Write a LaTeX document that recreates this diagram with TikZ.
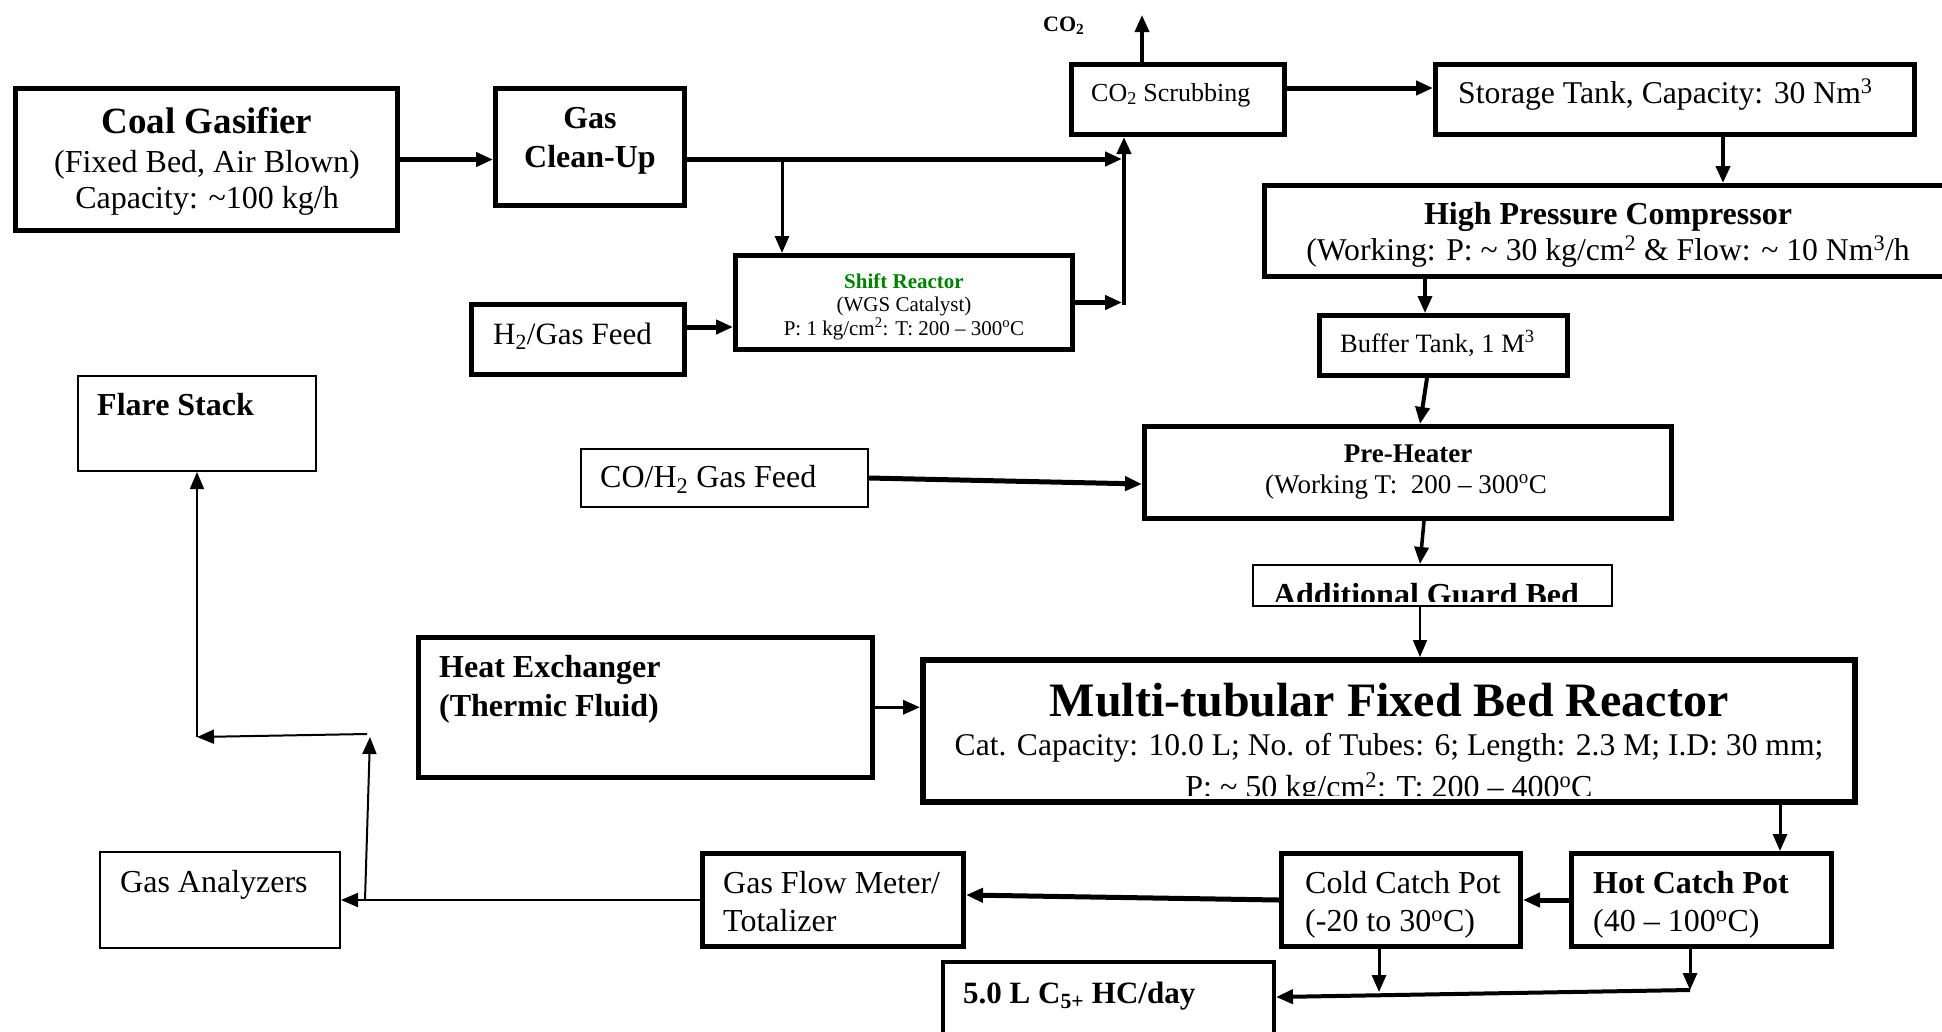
\documentclass[tikz,border=0pt]{standalone}
\usepackage{fontspec}
\setmainfont{Liberation Serif}
\usetikzlibrary{arrows.meta}
\newcommand\fsz[1]{\fontsize{#1}{#1}\selectfont}
\definecolor{shiftgreen}{RGB}{0,128,0}
\begin{document}
\begin{tikzpicture}[x=1pt,y=-1pt,
  box/.style={draw, rectangle, inner sep=0pt, anchor=north west, line width=#1},
  txt/.style={inner sep=0pt, anchor=base},
  ltxt/.style={inner sep=0pt, anchor=base west},
  con/.style={line width=#1, -{Triangle[length=17pt,width=14pt]}},
  ]
\useasboundingbox (0,0) rectangle (1942,1031);
\clip (0,0) rectangle (1942,1031);
\fill[white] (0,0) rectangle (1942,1031);

% ---------- boxes ----------
\node[box=5pt, minimum width=382pt, minimum height=142pt] (coal) at (13,86) {};
\node[box=5pt, minimum width=189pt, minimum height=117pt] (gcu) at (493,86) {};
\node[box=5pt, minimum width=213pt, minimum height=70pt] (co2s) at (1069,62) {};
\node[box=5pt, minimum width=479pt, minimum height=70pt] (stor) at (1433,62) {};
\node[box=5pt, minimum width=723pt, minimum height=91pt] (hpc) at (1262,183) {};
\node[box=5pt, minimum width=337pt, minimum height=94pt] (shift) at (733,253) {};
\node[box=5pt, minimum width=213pt, minimum height=70pt] (h2) at (469,302) {};
\node[box=5pt, minimum width=248pt, minimum height=60pt] (buf) at (1317,313) {};
\node[box=2pt, minimum width=238pt, minimum height=95pt] (flare) at (77,375) {};
\node[box=2pt, minimum width=287pt, minimum height=58pt] (coh2) at (580,448) {};
\node[box=5pt, minimum width=527pt, minimum height=92pt] (pre) at (1142,424) {};
\node[box=2pt, minimum width=359pt, minimum height=41pt] (guard) at (1252,564) {};
\node[box=4.5pt, minimum width=454pt, minimum height=140pt] (hx) at (416,635) {};
\node[box=6pt, minimum width=932pt, minimum height=142pt] (reac) at (920,657) {};
\node[box=2pt, minimum width=240pt, minimum height=96pt] (gan) at (99,851) {};
\node[box=5pt, minimum width=261pt, minimum height=93pt] (gfm) at (700,851) {};
\node[box=5pt, minimum width=239pt, minimum height=93pt] (ccp) at (1279,851) {};
\node[box=5pt, minimum width=260pt, minimum height=93pt] (hcp) at (1569,851) {};
\node[box=4pt, minimum width=331pt, minimum height=96pt] (hc) at (941,960) {};

% ---------- texts ----------
\node[txt, font=\fsz{37}\bfseries] (tcoal1) at (207,133) {Coal Gasifier};
\node[txt, font=\fsz{32}] (tcoal2) at (207,172) {(Fixed Bed, Air Blown)};
\node[txt, font=\fsz{32}] (tcoal3) at (207,208) {Capacity: \textasciitilde100 kg/h};
\node[txt, font=\fsz{32}\bfseries] (tgcu1) at (590,128) {Gas};
\node[txt, font=\fsz{32}\bfseries] (tgcu2) at (590,167) {Clean-Up};
\node[ltxt, font=\fsz{22}\bfseries] (tco2) at (1043,31) {CO\textsubscript{2}};
\node[ltxt, font=\fsz{26}] (tco2s) at (1091,101) {CO\textsubscript{2} Scrubbing};
\node[ltxt, font=\fsz{31.7}] (tstor) at (1458,103) {Storage Tank, Capacity: 30 Nm\textsuperscript{3}};
\node[txt, font=\fsz{32}\bfseries] (thpc1) at (1608,224) {High Pressure Compressor};
\node[txt, font=\fsz{31.7}] (thpc2) at (1608,260) {(Working: P: \textasciitilde{} 30 kg/cm\textsuperscript{2} \& Flow: \textasciitilde{} 10 Nm\textsuperscript{3}/h};
\node[txt, font=\fsz{21}\bfseries, text=shiftgreen] (tsh1) at (904,288) {Shift Reactor};
\node[txt, font=\fsz{21}] (tsh2) at (904,311) {(WGS Catalyst)};
\node[txt, font=\fsz{21}] (tsh3) at (904,335) {P: 1 kg/cm\textsuperscript{2}: T: 200 – 300\textsuperscript{o}C};
\node[ltxt, font=\fsz{31}] (th2) at (493,344) {H\textsubscript{2}/Gas Feed};
\node[ltxt, font=\fsz{26.5}] (tbuf) at (1340,352) {Buffer Tank, 1 M\textsuperscript{3}};
\node[ltxt, font=\fsz{32}\bfseries] (tflare) at (97,415) {Flare Stack};
\node[ltxt, font=\fsz{32}] (tcoh2) at (600,487) {CO/H\textsubscript{2} Gas Feed};
\node[txt, font=\fsz{27}\bfseries] (tpre1) at (1408,462) {Pre-Heater};
\node[txt, font=\fsz{27}] (tpre2) at (1406,493) {(Working T:\ \ 200 – 300\textsuperscript{o}C};
\begin{scope}
  \clip (1252,564) rectangle (1613,601);
  \node[txt, font=\fsz{32}\bfseries] (tguard) at (1426,605) {Additional Guard Bed};
\end{scope}
\node[ltxt, font=\fsz{32}\bfseries] (thx1) at (439,677) {Heat Exchanger};
\node[ltxt, font=\fsz{32}\bfseries] (thx2) at (439,716) {(Thermic Fluid)};
\node[txt, font=\fsz{48}\bfseries] (treac1) at (1389,716) {Multi-tubular Fixed Bed Reactor};
\node[txt, font=\fsz{31.6}] (treac2) at (1389,755) {Cat. Capacity: 10.0 L; No. of Tubes: 6; Length: 2.3 M; I.D: 30 mm;};
\begin{scope}
  \clip (920,657) rectangle (1858,795);
  \node[txt, font=\fsz{32}] (treac3) at (1389,797) {P: \textasciitilde{} 50 kg/cm\textsuperscript{2}: T: 200 – 400\textsuperscript{o}C};
\end{scope}
\node[ltxt, font=\fsz{32}] (tgan) at (120,892) {Gas Analyzers};
\node[ltxt, font=\fsz{32}] (tgfm1) at (723,893) {Gas Flow Meter/};
\node[ltxt, font=\fsz{32}] (tgfm2) at (723,931) {Totalizer};
\node[ltxt, font=\fsz{32}] (tccp1) at (1305,893) {Cold Catch Pot};
\node[ltxt, font=\fsz{32}] (tccp2) at (1305,931) {(-20 to 30\textsuperscript{o}C)};
\node[ltxt, font=\fsz{32}\bfseries] (thcp1) at (1593,893) {Hot Catch Pot};
\node[ltxt, font=\fsz{32}] (thcp2) at (1593,931) {(40 – 100\textsuperscript{o}C)};
\node[ltxt, font=\fsz{31}\bfseries] (thc) at (963,1003) {5.0 L C\textsubscript{5+} HC/day};

% ---------- connectors ----------
\draw[con=5pt] (coal.east) -- (coal.east -| gcu.west);
\coordinate (jA) at (1122,159);
\draw[con=5pt] (gcu.east |- jA) -- (jA);
\coordinate (br) at (782,159);
\draw[con=3pt] (br) -- (br |- shift.north);
\coordinate (vB) at (1124,305);
\draw[con=4pt] (vB) -- (vB |- co2s.south);
\draw[con=5pt] (shift.east) -- (shift.east -| jA);
\coordinate (hA) at (687,327);
\draw[con=5pt] (h2.east |- hA) -- (hA -| shift.west);
\coordinate (cT) at (1142,15);
\draw[con=3.5pt] (cT |- co2s.north) -- (cT);
\coordinate (cs) at (1287,88);
\draw[con=5pt] (co2s.east |- cs) -- (cs -| stor.west);
\coordinate (sh) at (1723,137);
\draw[con=4pt] (stor.south -| sh) -- (sh |- hpc.north);
\coordinate (hb) at (1425,279);
\draw[con=3.5pt] (hpc.south -| hb) -- (hb |- buf.north);
\coordinate (bp1) at (1427,378);
\coordinate (bp2) at (1420,424);
\draw[con=4pt] (bp1) -- (bp2);
\coordinate (cp) at (1142,484);
\draw[con=5pt] (coh2.east) -- (cp);
\coordinate (pg1) at (1424,521);
\coordinate (pg2) at (1420,564);
\draw[con=3.5pt] (pg1) -- (pg2);
\coordinate (gr) at (1420,607);
\draw[con=2pt] (gr) -- (gr |- reac.north);
\draw[con=3.5pt] (hx.east) -- (hx.east -| reac.west);
\coordinate (rh) at (1780,805);
\draw[con=3pt] (rh) -- (rh |- hcp.north);
\draw[con=5pt] (hcp.west) -- (ccp.east);
\draw[con=5pt] (ccp.west) -- ([yshift=5pt]gfm.east);
\draw[con=2pt] (gfm.west) -- (gan.east);
\coordinate (r1) at (365,900);
\coordinate (r2) at (370,737);
\draw[con=2pt] (r1) -- (r2);
\coordinate (r3) at (367,734);
\coordinate (r4) at (197,737);
\draw[con=2pt] (r3) -- (r4);
\draw[con=1.5pt] (r4) -- (flare.south);
\coordinate (cd) at (1379,949);
\coordinate (cb) at (1379,992);
\draw[con=3pt] (cd) -- (cb);
\coordinate (hd) at (1690,949);
\coordinate (hbm) at (1690,990);
\draw[con=3pt] (hd) -- (hbm);
\coordinate (bh2) at (1276,997);
\draw[con=4pt] (hbm) -- (bh2);
\end{tikzpicture}
\end{document}
